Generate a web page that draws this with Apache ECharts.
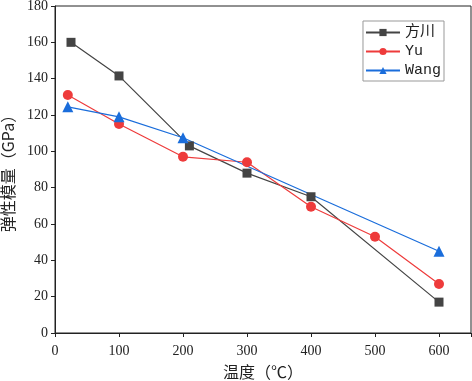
<!DOCTYPE html>
<html>
<head>
<meta charset="utf-8">
<script src="https://cdn.jsdelivr.net/npm/echarts@6/dist/echarts.min.js"></script>
<style>
  html, body { margin: 0; padding: 0; background: #fff; }
  #chart { width: 472px; height: 381px; }
</style>
</head>
<body>
<div id="chart"></div>
<script>
// 方川
const fangX = [25, 100, 210, 300, 400, 600]
const fangY = [160, 141.5, 103, 88, 75, 17]
// Yu
const yuX = [20, 100, 200, 300, 400, 500, 600]
const yuY = [131, 115, 97, 94, 69.5, 53, 27]
// Wang
const wangX = [20, 100, 200, 600]
const wangY = [124.5, 119, 107.5, 45]

const seriesNames = ['方川', 'Yu', 'Wang']
const xTicks = [0, 100, 200, 300, 400, 500, 600]

const pairs = (xs, ys) => xs.map((x, i) => [x, ys[i]])

const serif = 'Liberation Serif'
const cjk = 'Noto Sans CJK SC'

const chart = echarts.init(document.getElementById('chart'))
chart.setOption({
  animation: false,
  grid: {
    left: 55,
    right: 1,
    top: 6,
    bottom: 48,
    outerBoundsMode: 'none',
    containLabel: false,
    show: true,
    borderColor: '#222',
    borderWidth: 1
  },
  legend: {
    data: seriesNames,
    orient: 'vertical',
    right: 28,
    top: 21,
    itemWidth: 34,
    itemHeight: 9,
    itemGap: 4,
    padding: [4, 3, 3, 2],
    borderColor: '#999',
    borderWidth: 1,
    backgroundColor: '#fff',
    textStyle: { fontFamily: 'Liberation Mono, ' + cjk, fontSize: 15, color: '#222' }
  },
  xAxis: {
    type: 'value',
    min: 0,
    max: 650,
    interval: 100,
    name: '温度（℃）',
    nameLocation: 'middle',
    nameGap: 31,
    nameTextStyle: { fontFamily: cjk, fontSize: 16, color: '#222' },
    axisLine: { lineStyle: { color: '#222' } },
    axisTick: { length: 4, lineStyle: { color: '#222' } },
    axisLabel: {
      fontFamily: serif,
      fontSize: 14,
      color: '#222',
      margin: 11,
      formatter: v => (xTicks.indexOf(v) >= 0 ? String(v) : '')
    },
    splitLine: { show: false }
  },
  yAxis: {
    type: 'value',
    min: 0,
    max: 180,
    interval: 20,
    name: '弹性模量（GPa）',
    nameLocation: 'middle',
    nameGap: 32,
    nameTextStyle: { fontFamily: cjk, fontSize: 16, color: '#222' },
    axisLine: { show: true, lineStyle: { color: '#222' } },
    axisTick: { show: true, length: 4, lineStyle: { color: '#222' } },
    axisLabel: { fontFamily: serif, fontSize: 14, color: '#222', margin: 7 },
    splitLine: { show: false }
  },
  series: [
    {
      name: seriesNames[0],
      type: 'line',
      symbol: 'rect',
      symbolSize: 9,
      itemStyle: { color: '#444' },
      lineStyle: { color: '#444', width: 1.2 },
      data: pairs(fangX, fangY)
    },
    {
      name: seriesNames[1],
      type: 'line',
      symbol: 'circle',
      symbolSize: 10,
      itemStyle: { color: '#ee3b3b' },
      lineStyle: { color: '#ee3b3b', width: 1.2 },
      data: pairs(yuX, yuY)
    },
    {
      name: seriesNames[2],
      type: 'line',
      symbol: 'triangle',
      symbolSize: 11,
      itemStyle: { color: '#1a6ddb' },
      lineStyle: { color: '#1a6ddb', width: 1.2 },
      data: pairs(wangX, wangY)
    }
  ]
})
</script>
</body>
</html>
